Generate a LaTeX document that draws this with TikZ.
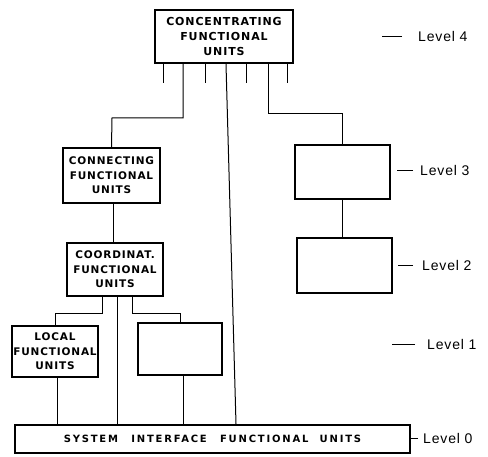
\documentclass[tikz,border=0pt]{standalone}
\usepackage{fontspec}
\setmainfont{Liberation Sans}
\newfontfamily\boxfont[LetterSpace=8]{DejaVu Sans Bold}
\newfontfamily\sysfont[LetterSpace=18]{DejaVu Sans Bold}
\newfontfamily\lvlfont[LetterSpace=6]{Liberation Sans}
\begin{document}
\begin{tikzpicture}[x=1pt,y=-1pt,
  unit/.style={draw, line width=2.2pt, inner sep=0pt, align=center,
    font=\boxfont\fontsize{10.5}{14.5}\selectfont},
  link/.style={line width=1pt},
  lvl/.style={anchor=west, inner sep=0pt, font=\lvlfont\fontsize{14}{16}\selectfont},
  dashmark/.style={line width=0.9pt}]
\useasboundingbox (0,0) rectangle (488,457);
\fill[white] (0,0) rectangle (488,457);
% boxes
\node[unit, minimum width=138pt, minimum height=53pt, font=\boxfont\fontsize{11}{15}\selectfont] (top) at (224,36.5) {CONCENTRATING\\FUNCTIONAL\\UNITS};
\node[unit, minimum width=97pt, minimum height=55pt] (conn) at (111.5,175.5) {CONNECTING\\FUNCTIONAL\\UNITS};
\node[unit, minimum width=96pt, minimum height=53pt] (coord) at (115,269.5) {COORDINAT.\\FUNCTIONAL\\UNITS};
\node[unit, minimum width=86pt, minimum height=51pt] (local) at (55,351.5) {LOCAL\\FUNCTIONAL\\UNITS};
\node[unit, minimum width=84pt, minimum height=52pt] (emptyA) at (180,349) {};
\node[unit, minimum width=95pt, minimum height=54pt] (lthree) at (342.5,172) {};
\node[unit, minimum width=95pt, minimum height=55pt] (ltwo) at (344.5,265.5) {};
\node[unit, minimum width=395pt, minimum height=28pt, font=\sysfont\fontsize{10}{12}\selectfont] (sys) at (212.5,439) {SYSTEM\hspace{8pt} INTERFACE\hspace{8pt} FUNCTIONAL\hspace{6pt} UNITS};
% junction coordinates
\coordinate (jL) at (112,118);
\coordinate (jR) at (342.5,114);
\coordinate (jLL) at (55,314);
\coordinate (jLR) at (180,314);
% stubs below top box
\foreach \dx in {-61,-19,22,63}
  \draw[link] ([xshift=\dx pt]top.south) -- ++(0,19);
% connectors
\draw[link] ([xshift=-41pt]top.south) |- (jL) -- (conn.north);
\draw[link] ([xshift=44pt]top.south) |- (jR) -- (lthree.north);
\draw[link] ([xshift=2pt]top.south) -- ([xshift=23.5pt]sys.north);
\draw[link] (lthree.south) -- (lthree.south |- ltwo.north);
\draw[link] ([xshift=1.5pt]conn.south) -- ([xshift=-2pt]coord.north);
\draw[link] ([xshift=-13pt]coord.south) |- (jLL) -- (local.north);
\draw[link] ([xshift=17pt]coord.south) |- (jLR) -- (emptyA.north);
\draw[link] ([xshift=2pt]coord.south) -- ([xshift=2pt]coord.south |- sys.north);
\draw[link] ([xshift=2pt]local.south) -- ([xshift=2pt]local.south |- sys.north);
\draw[link] ([xshift=3pt]emptyA.south) -- ([xshift=3pt]emptyA.south |- sys.north);
% level labels
\node[lvl] (lv4) at (418,36) {Level 4};
\node[lvl] (lv3) at (420,170) {Level 3};
\node[lvl] (lv2) at (422,265) {Level 2};
\node[lvl] (lv1) at (427,344) {Level 1};
\node[lvl] (lv0) at (423,438) {Level 0};
\draw[dashmark] ([xshift=-16pt]lv4.west) -- ++(-20,0);
\draw[dashmark] ([xshift=-7pt]lv3.west) -- ++(-16,0);
\draw[dashmark] ([xshift=-9pt]lv2.west) -- ++(-15,0);
\draw[dashmark] ([xshift=-12pt]lv1.west) -- ++(-23,0);
\draw[dashmark] ([xshift=-5pt]lv0.west) -- ++(-7,0);
\end{tikzpicture}
\end{document}
